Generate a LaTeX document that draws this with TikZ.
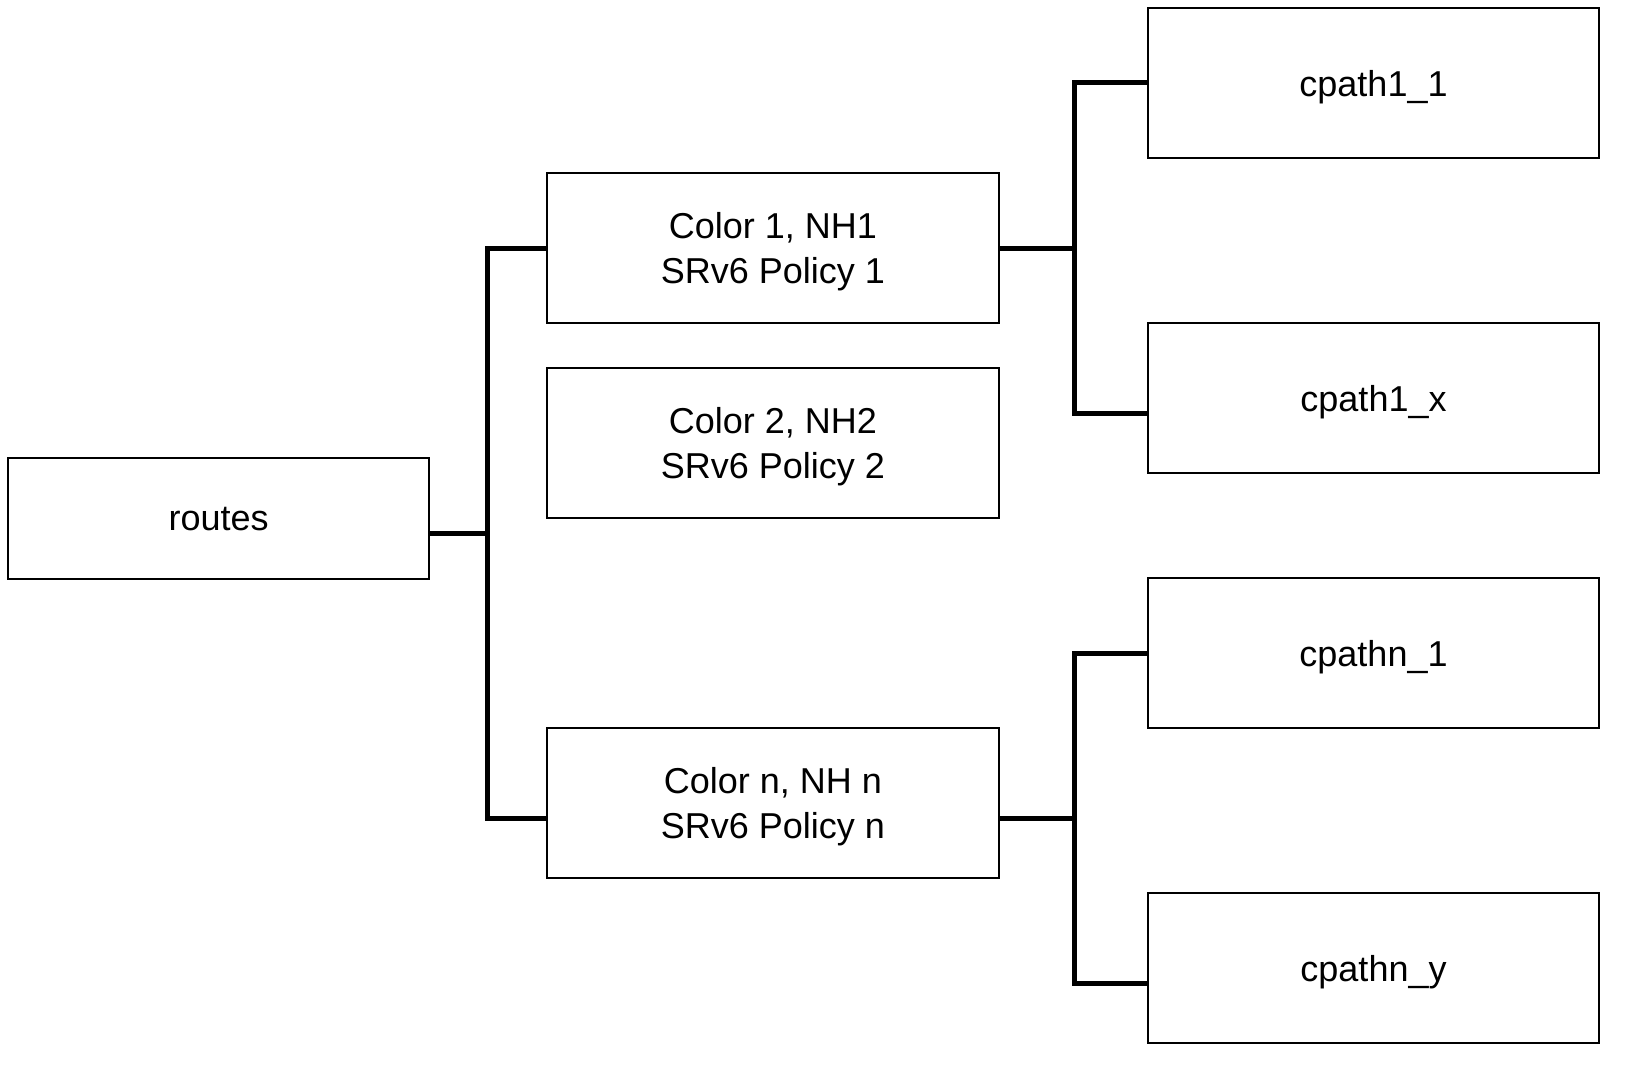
\documentclass[tikz,border=0pt]{standalone}
\usepackage{fontspec}
\setmainfont{Liberation Sans}
\usepackage{tikz}
\usetikzlibrary{positioning}
\tikzset{
  box/.style={draw, line width=2pt, minimum height=150pt, align=center,
    font=\fontsize{36}{45}\selectfont, inner sep=0pt, text depth=0pt},
  link/.style={line width=5pt},
}

\begin{document}
\begin{tikzpicture}[x=1pt, y=-1pt]
    \useasboundingbox (0,0) rectangle (1641,1086);
    % root and policies
    \node[box, minimum width=421pt, minimum height=121pt] (routes) at (218.7,518.5) {routes};
    \node[box, minimum width=452pt] (c1) at (773,248) {Color 1, NH1\\SRv6 Policy 1};
    \node[box, minimum width=452pt] (c2) at (773,443) {Color 2, NH2\\SRv6 Policy 2};
    \node[box, minimum width=452pt] (cn) at (773,803) {Color n, NH n\\SRv6 Policy n};
    % candidate paths
    \node[box, minimum width=451pt] (p11) at (1373.5,83) {cpath1\_1};
    \node[box, minimum width=451pt] (p1x) at (1373.5,398) {cpath1\_x};
    \node[box, minimum width=451pt] (pn1) at (1373.5,653) {cpathn\_1};
    \node[box, minimum width=451pt] (pny) at (1373.5,968) {cpathn\_y};
    % connectors
    \draw[link] (c1.west) -- ++(-59,0) |- ([yshift=-15pt]routes.east);
    \draw[link] ([yshift=-15pt]cn.west) -- ++(-59,0) |- ([yshift=-15pt]routes.east);
    \draw[link] (c1.east) -- ++(74,0) |- (p11.west);
    \draw[link] (c1.east) -- ++(74,0) |- ([yshift=-15pt]p1x.west);
    \draw[link] ([yshift=-15pt]cn.east) -- ++(74,0) |- (pn1.west);
    \draw[link] ([yshift=-15pt]cn.east) -- ++(74,0) |- ([yshift=-15pt]pny.west);
\end{tikzpicture}
\end{document}
